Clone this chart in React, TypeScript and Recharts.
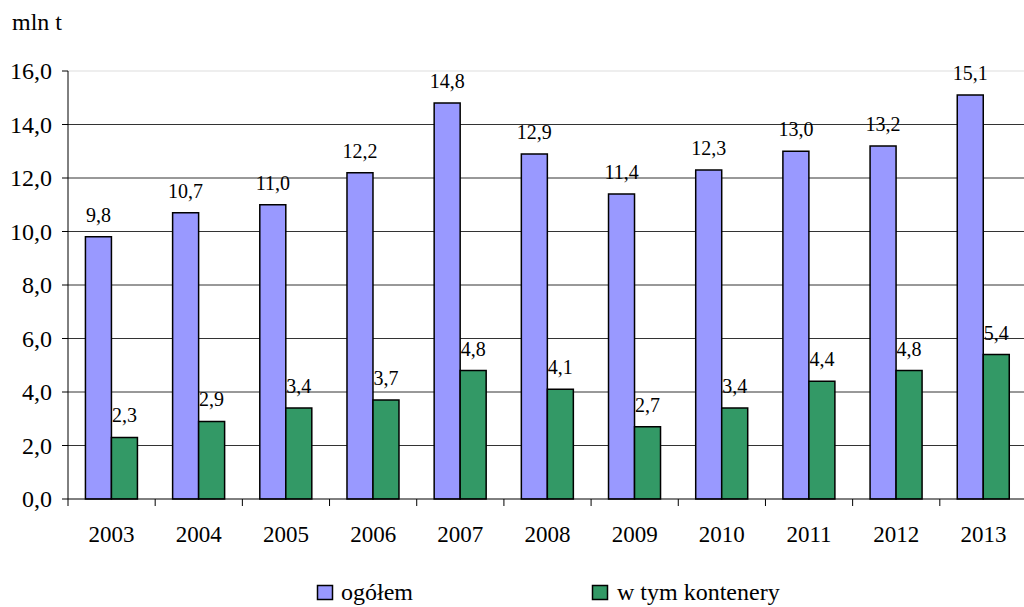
import React from "react";
import {
  BarChart,
  Bar,
  XAxis,
  YAxis,
  CartesianGrid,
  ReferenceLine,
  LabelList,
} from "recharts";

const years = ["2003", "2004", "2005", "2006", "2007", "2008", "2009", "2010", "2011", "2012", "2013"];
const ogolem = [9.8, 10.7, 11.0, 12.2, 14.8, 12.9, 11.4, 12.3, 13.0, 13.2, 15.1];
const kontenery = [2.3, 2.9, 3.4, 3.7, 4.8, 4.1, 2.7, 3.4, 4.4, 4.8, 5.4];
const yTicks = [0, 2, 4, 6, 8, 10, 12, 14, 16];

const data = years.map((year, i) => ({
  year,
  ogolem: ogolem[i],
  kontenery: kontenery[i],
}));

const FONT = "Liberation Serif";
const fmt = (v: number) => v.toFixed(1).replace(".", ",");

// tick marks sit on category boundaries, labels in the middle
const XTick = (props: any) => {
  const { x, y, payload, index, visibleTicksCount } = props;
  const half = payload?.offset ?? 43.6;
  const last = index === (visibleTicksCount ?? years.length) - 1;
  return (
    <g>
      <line x1={x - half} y1={y - 8} x2={x - half} y2={y - 1} stroke="#000" />
      {last && <line x1={x + half} y1={y - 8} x2={x + half} y2={y - 1} stroke="#000" />}
      <text x={x} y={y + 35} textAnchor="middle" fontSize={23} fontFamily={FONT} fill="#000">
        {payload.value}
      </text>
    </g>
  );
};

const YTick = (props: any) => {
  const { x, y, payload } = props;
  return (
    <text x={x} y={y + 8} textAnchor="end" fontSize={24} fontFamily={FONT} fill="#000">
      {fmt(Number(payload.value))}
    </text>
  );
};

const renderLabel = (props: any) => {
  const { x, y, width, value } = props;
  return (
    <text x={x + width / 2} y={y - 15} textAnchor="middle" fontSize={20} fontFamily={FONT} fill="#000">
      {fmt(Number(value))}
    </text>
  );
};

export default function App() {
  return (
    <div style={{ position: "absolute", left: 0, top: 0, width: 1024, height: 607, overflow: "hidden", background: "#fff" }}>
      <BarChart
        width={1040}
        height={607}
        data={data}
        margin={{ top: 71, right: 13, left: 8, bottom: 78 }}
        barCategoryGap="20%"
        barGap={0}
      >
        <CartesianGrid vertical={false} horizontalValues={[2, 4, 6, 8, 10, 12, 14]} stroke="#333" />
        <ReferenceLine y={16} stroke="#ddd" />
        <XAxis
          dataKey="year"
          axisLine={{ stroke: "#000" }}
          tickLine={false}
          tick={<XTick />}
          interval={0}
          height={30}
        />
        <YAxis
          domain={[0, 16]}
          ticks={yTicks}
          width={60}
          axisLine={{ stroke: "#000" }}
          tickLine={{ stroke: "#000" }}
          tickSize={6}
          tickMargin={10}
          tick={<YTick />}
        />
        <Bar dataKey="ogolem" fill="#9999FF" stroke="#000" strokeWidth={1.5} isAnimationActive={false}>
          <LabelList dataKey="ogolem" content={renderLabel} />
        </Bar>
        <Bar dataKey="kontenery" fill="#339966" stroke="#000" strokeWidth={1.5} isAnimationActive={false}>
          <LabelList dataKey="kontenery" content={renderLabel} />
        </Bar>
      </BarChart>
      <svg width={1024} height={607} style={{ position: "absolute", left: 0, top: 0, pointerEvents: "none" }}>
        <text x={12} y={30} fontSize={24} fontFamily={FONT} fill="#000">mln t</text>
        <rect x={317.5} y={585.5} width={15} height={14} fill="#9999FF" stroke="#000" strokeWidth={1.5} />
        <text x={341} y={600} fontSize={24} fontFamily={FONT} fill="#000">ogółem</text>
        <rect x={592.5} y={585.5} width={15} height={14} fill="#339966" stroke="#000" strokeWidth={1.5} />
        <text x={617} y={600} fontSize={24} fontFamily={FONT} fill="#000">w tym kontenery</text>
      </svg>
    </div>
  );
}
